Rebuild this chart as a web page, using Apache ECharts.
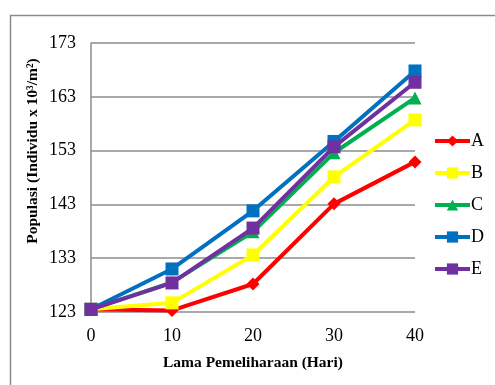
<!DOCTYPE html>
<html>
<head>
<meta charset="utf-8">
<script src="https://cdn.jsdelivr.net/npm/echarts@6/dist/echarts.min.js"></script>
<style>
  html, body { margin: 0; padding: 0; background: #fff; }
  #chart { width: 495px; height: 385px; }
</style>
</head>
<body>
<div id="chart"></div>
<script>
// Rearing time (days)
const days = ['0', '10', '20', '30', '40'];
const yTicks = [123, 133, 143, 153, 163, 173];

// Population (individuals x 10^3 / m^2) per treatment
const seriesA = [123.5, 123.3, 128.2, 143.1, 150.9];
const seriesB = [123.5, 124.7, 133.6, 148.1, 158.7];
const seriesC = [123.5, 128.5, 137.9, 152.6, 162.8];
const seriesD = [123.5, 131.0, 141.8, 154.7, 167.8];
const seriesE = [123.5, 128.4, 138.6, 153.7, 165.7];

const names = ['A', 'B', 'C', 'D', 'E'];
const values = [seriesA, seriesB, seriesC, seriesD, seriesE];
const colors = ['#ff0000', '#ffff00', '#00b050', '#0070c0', '#7030a0'];
const symbols = ['diamond', 'rect', 'triangle', 'rect', 'rect'];
const symbolSizes = [13, 13, 13, 13, 13];

const serif = '"Liberation Serif", "DejaVu Serif", serif';

const chart = echarts.init(document.getElementById('chart'));
chart.setOption({
  animation: false,
  backgroundColor: '#fff',
  textStyle: { fontFamily: serif },
  grid: { left: 91, right: 80, top: 43, bottom: 73 },
  legend: {
    orient: 'vertical',
    right: 6,
    top: 127,
    itemGap: 14,
    itemWidth: 35,
    itemHeight: 14,
    data: names,
    lineStyle: { width: 4 },
    textStyle: { fontFamily: serif, fontSize: 18, color: '#000', padding: [0, 0, 0, -4] }
  },
  xAxis: {
    type: 'category',
    data: days,
    boundaryGap: false,
    name: 'Lama Pemeliharaan (Hari)',
    nameLocation: 'middle',
    nameGap: 43,
    nameTextStyle: { fontFamily: serif, fontSize: 15.5, fontWeight: 'bold', color: '#000' },
    axisLine: { show: false },
    axisTick: { show: false },
    axisLabel: { fontFamily: serif, fontSize: 18, color: '#000', margin: 15 },
    splitLine: { show: false }
  },
  yAxis: {
    type: 'value',
    min: yTicks[0],
    max: yTicks[yTicks.length - 1],
    interval: 10,
    axisLine: { show: true, lineStyle: { color: '#8c8c8c', width: 1.5 } },
    axisTick: { show: false },
    axisLabel: { fontFamily: serif, fontSize: 18, color: '#000', margin: 15 },
    splitLine: { show: true, lineStyle: { color: '#8c8c8c', width: 1.5 } }
  },
  graphic: [
    {
      type: 'rect',
      shape: { x: 10.5, y: 15.5, width: 600, height: 600 },
      style: { fill: 'none', stroke: '#8c8c8c', lineWidth: 1.5 },
      z: -1
    },
    {
      type: 'text',
      x: 33,
      y: 151,
      rotation: Math.PI / 2,
      style: {
        text: 'Populasi (Individu x 10³/m²)',
        fontFamily: serif,
        fontSize: 15.5,
        fontWeight: 'bold',
        fill: '#000',
        align: 'center',
        verticalAlign: 'middle'
      }
    }
  ],
  series: names.map((n, i) => ({
    name: n,
    type: 'line',
    data: values[i],
    symbol: symbols[i],
    symbolSize: symbolSizes[i],
    showAllSymbol: true,
    color: colors[i],
    lineStyle: { width: 4, color: colors[i] },
    itemStyle: { color: colors[i] },
    z: i === 4 ? 6 : (i === 3 ? 5 : 2 + i)
  }))
});
</script>
</body>
</html>
